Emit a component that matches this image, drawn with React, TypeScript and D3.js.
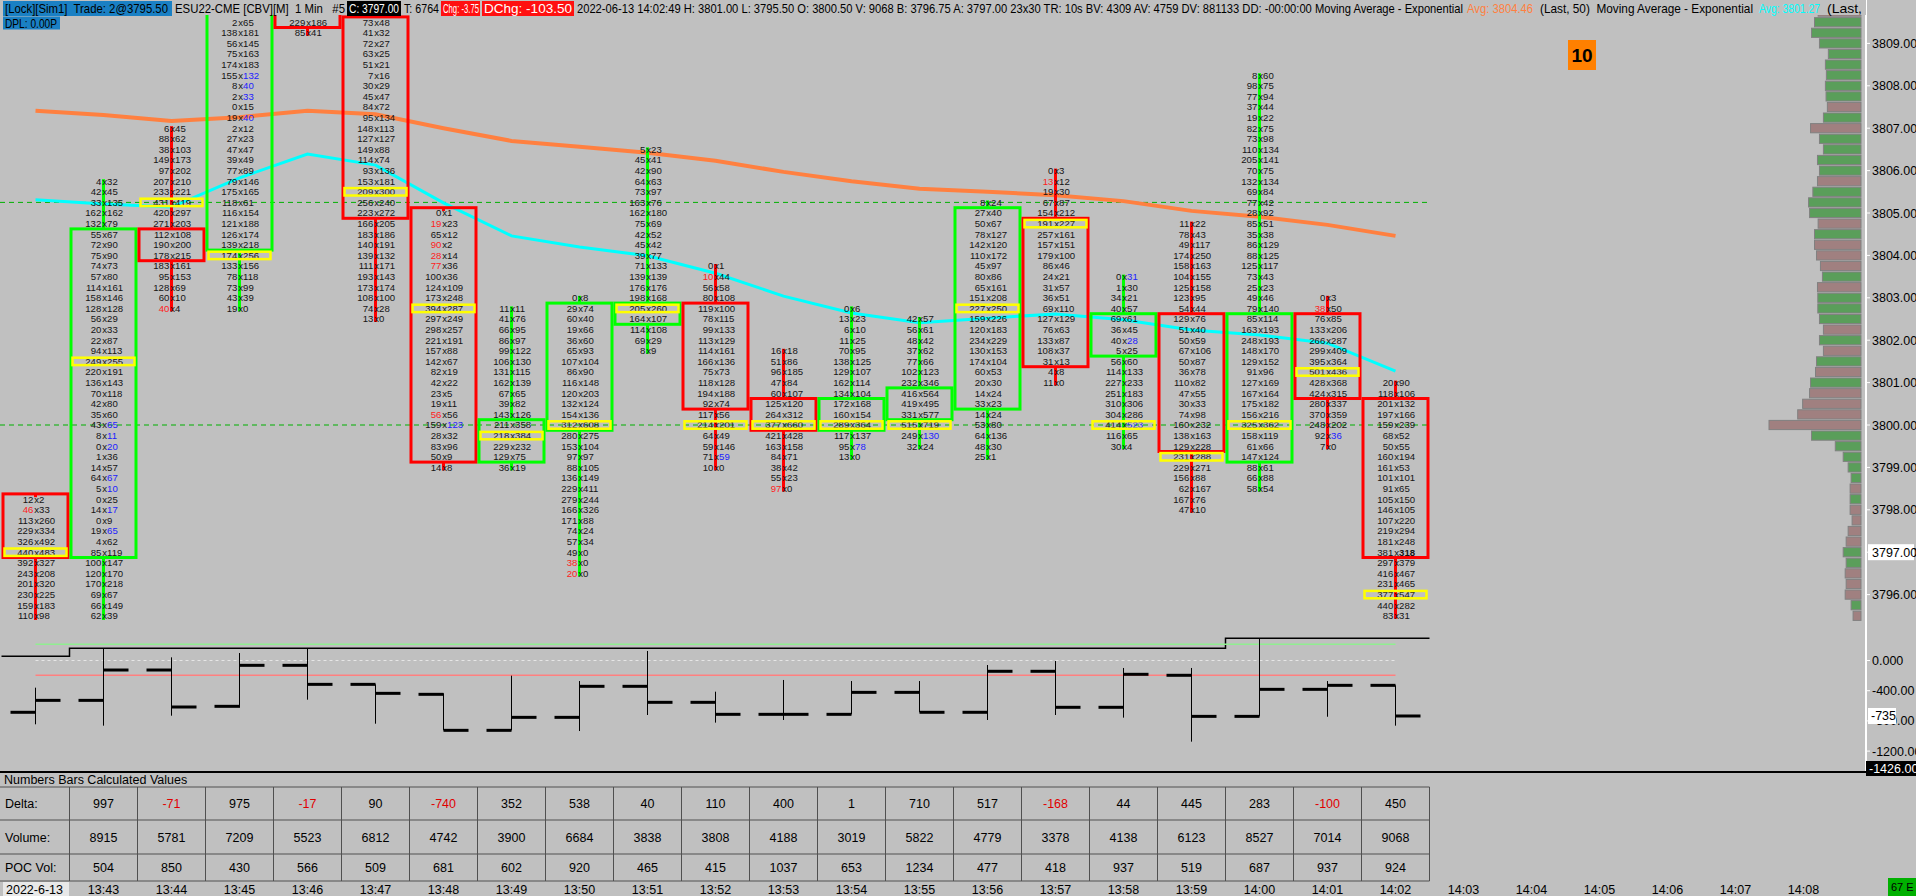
import React, { useEffect } from 'react';
import * as d3 from 'd3';

// ---- bars (1 min footprint) ----
const barTimes = ['13:42', '13:43', '13:44', '13:45', '13:46', '13:47', '13:48', '13:49', '13:50', '13:51', '13:52',
  '13:53', '13:54', '13:55', '13:56', '13:57', '13:58', '13:59', '14:00', '14:01', '14:02'];
const futureTimes = ['14:03', '14:04', '14:05', '14:06', '14:07', '14:08'];

const barOpen = [3798.25, 3797.0, 3804.5, 3804.25, 3810.75, 3809.5, 3805.0, 3799.25, 3800.0, 3802.5, 3802.75,
  3800.5, 3800.0, 3800.25, 3800.5, 3804.75, 3801.75, 3802.5, 3799.25, 3802.5, 3800.5];
const barClose = [3797.0, 3804.5, 3804.0, 3810.75, 3809.5, 3805.0, 3799.25, 3800.0, 3802.75, 3802.75, 3800.5,
  3800.0, 3800.5, 3800.75, 3805.0, 3801.5, 3802.5, 3799.5, 3802.5, 3800.75, 3797.0];
const barHigh = [3798.25, 3805.75, 3807.0, 3811.0, 3811.5, 3810.0, 3805.0, 3802.75, 3803.0, 3806.5, 3803.75,
  3801.75, 3802.75, 3802.5, 3805.25, 3806.0, 3803.5, 3804.75, 3808.25, 3803.0, 3801.0];
const barLow = [3795.25, 3795.25, 3802.75, 3802.75, 3809.25, 3802.5, 3799.0, 3799.0, 3796.5, 3801.75, 3799.0,
  3798.5, 3799.25, 3799.5, 3799.25, 3801.0, 3799.5, 3798.0, 3798.5, 3799.5, 3795.5];
// price of the first listed cell of each bar
const barTop = [3798.25, 3805.75, 3807.0, 3809.75, 3809.75, 3809.75, 3805.0, 3802.75, 3803.0, 3806.5, 3803.75,
  3801.75, 3802.75, 3802.5, 3805.25, 3806.0, 3803.5, 3804.75, 3808.25, 3803.0, 3801.0];

// "bid x ask" per price, top down. ! = red bid, * = blue ask, ^ = bold ask
const barCells = [
  ['12x2', '46!x33', '113x260', '229x334', '326x492', '440x483', '392x327', '243x208', '201x320', '230x225', '159x183', '110x98'],
  ['4x32', '42x45', '33x135', '162x162', '132x79', '55x67', '72x90', '75x90', '74x73', '57x80', '114x161', '158x146', '128x128',
    '56x29', '20x33', '22x87', '94x113', '249x255', '220x191', '136x143', '70x118', '42x80', '35x60', '43x*65', '8x*11', '0x*20',
    '1x36', '14x57', '64x*67', '5x*10', '0x25', '14x*17', '0x9', '19x*65', '4x62', '85x119', '100x147', '120x170', '170x218',
    '69x67', '66x149', '62x39'],
  ['6x45', '88x62', '38x103', '149x173', '97x202', '207x210', '233x221', '431x419', '420x297', '271x203', '112x108', '190x200',
    '178x215', '183x161', '95x153', '128x69', '60x10', '40!x4'],
  ['12x70', '2x65', '138x181', '56x145', '75x163', '174x183', '155x*132', '8x*40', '2x*33', '0x15', '19x*40', '2x12', '27x23',
    '47x47', '39x49', '77x89', '79x146', '175x165', '118x61', '116x154', '121x188', '126x174', '139x218', '174x256', '133x156',
    '78x118', '73x99', '43x39', '19x0'],
  ['216x174', '229x186', '85x41'],
  ['27!x133', '73x48', '41x32', '72x27', '63x25', '51x21', '7x16', '30x29', '45x47', '84x72', '95x134', '148x113', '127x127',
    '149x88', '114x74', '93x136', '153x181', '209x300', '256x240', '223x272', '166x205', '183x186', '140x191', '139x132',
    '111x171', '193x143', '173x174', '108x100', '74x28', '13x0'],
  ['0x1', '19!x23', '65x12', '90!x2', '28!x14', '77!x36', '100x36', '124x109', '173x248', '394x287', '297x249', '298x257',
    '221x191', '157x88', '142x67', '82x19', '42x22', '23x5', '19x11', '56!x56', '159x*123', '28x32', '83x96', '50x9', '14x8'],
  ['11x11', '41x76', '66x95', '86x97', '99x122', '106x130', '131x115', '162x139', '67x65', '39x82', '143x126', '211x358',
    '218x384', '229x232', '129x75', '36x19'],
  ['0x8', '29x74', '60x40', '19x66', '36x60', '65x93', '107x104', '86x90', '116x148', '120x203', '132x124', '154x136', '312x608',
    '280x275', '153x104', '97x97', '88x105', '136x149', '229x411', '279x244', '166x326', '171x88', '74x24', '57x34', '49x0',
    '38!x0', '20!x0'],
  ['5x23', '45x41', '42x90', '64x63', '73x97', '163x76', '162x180', '75x69', '42x52', '45x42', '39x77', '71x133', '139x139',
    '176x176', '198x168', '205x260', '164x107', '114x108', '69x29', '8x9'],
  ['0x1', '10!x44', '56x58', '80x108', '119x100', '78x115', '99x133', '113x129', '114x161', '166x136', '75x73', '118x128',
    '194x188', '92x74', '117x56', '214x201', '64x49', '59x146', '71x*59', '10x0'],
  ['16x18', '51x86', '96x185', '47x84', '60x107', '125x120', '264x312', '377x660', '421x428', '163x158', '84x71', '38x42',
    '55x23', '97!x0'],
  ['0x6', '13x23', '6x10', '11x25', '70x95', '138x125', '129x107', '162x114', '134x104', '172x168', '160x154', '289x364',
    '117x137', '95x*78', '13x0'],
  ['42x57', '56x61', '48x42', '37x62', '77x66', '102x123', '232x346', '416x564', '419x495', '331x577', '515x719', '249x*130', '32x24'],
  ['8x24', '27x40', '50x67', '78x127', '142x120', '110x172', '45x97', '80x86', '65x161', '151x208', '227x250', '159x226',
    '120x183', '234x229', '130x153', '174x104', '60x53', '20x30', '14x24', '33x23', '14x24', '53x80', '64x136', '48x30', '25x1'],
  ['0x3', '13!x12', '19x30', '67x87', '154x212', '191x227', '257x161', '157x151', '179x100', '86x46', '24x21', '31x57', '36x51',
    '69x110', '127x129', '76x63', '133x87', '108x37', '31x13', '4x8', '11x0'],
  ['0x*31', '1x30', '34x21', '40x57', '69x61', '36x45', '40x*28', '5x25', '56x60', '114x133', '227x233', '251x183', '310x306',
    '304x286', '414x*523', '116x65', '30x4'],
  ['11x22', '78x43', '49x117', '174x250', '158x163', '104x155', '125x158', '123x95', '54x44', '129x76', '51x40', '50x59',
    '67x106', '50x87', '36x78', '110x82', '47x55', '30x33', '74x98', '160x232', '138x163', '129x228', '231x288', '229x271',
    '156x88', '62x167', '167x76', '47x10'],
  ['8x60', '98x75', '77x94', '37x44', '19x22', '82x75', '73x98', '110x134', '205x141', '70x75', '132x134', '69x84', '77x42',
    '28x92', '85x51', '35x38', '86x129', '88x125', '125x117', '73x43', '25x23', '49x46', '79x140', '85x114', '163x193',
    '248x193', '148x170', '129x152', '91x96', '127x169', '167x164', '175x182', '156x216', '325x362', '158x119', '61x66',
    '147x124', '88x61', '66x88', '58x54'],
  ['0x3', '38!x50', '76x85', '133x206', '266x287', '299x409', '395x364', '501x436', '428x368', '424x315', '280x337', '370x359',
    '248x202', '92x*36', '7x0'],
  ['20x90', '118x106', '201x132', '197x166', '159x239', '68x52', '50x55', '160x194', '161x53', '101x101', '91x65', '105x150',
    '146x105', '107x220', '219x294', '181x248', '381x^318', '297x379', '416x467', '231x465', '377x547', '440x282', '83x31'],
];

const pocVolume = [923, 504, 850, 430, 566, 509, 681, 602, 920, 465, 415, 1037, 653, 1234, 477, 418, 937, 519, 687, 937, 924];

// ---- table (13:43 .. 14:02) ----
const tableDelta = [997, -71, 975, -17, 90, -740, 352, 538, 40, 110, 400, 1, 710, 517, -168, 44, 445, 283, -100, 450];
const tableVolume = [8915, 5781, 7209, 5523, 6812, 4742, 3900, 6684, 3838, 3808, 4188, 3019, 5822, 4779, 3378, 4138, 6123,
  8527, 7014, 9068];
const tablePoc = pocVolume.slice(1);

// ---- moving averages ----
const emaSlow = [3807.41, 3807.31, 3807.17, 3807.26, 3807.41, 3807.33, 3807.0, 3806.7, 3806.56, 3806.42, 3806.23, 3805.97,
  3805.75, 3805.57, 3805.5, 3805.42, 3805.28, 3805.05, 3804.91, 3804.72, 3804.46];
const emaFast = [3805.31, 3805.21, 3805.14, 3805.83, 3806.39, 3806.13, 3805.24, 3804.46, 3804.2, 3803.99, 3803.58, 3803.04,
  3802.64, 3802.41, 3802.52, 3802.62, 3802.48, 3802.24, 3802.12, 3801.93, 3801.27];

// ---- lower pane ----
const cdOpen = [-686, -528, -126, -607, -64, -316, -448, -925, -753, -342, -554, -713, -713, -422, -686, -143, -620, -196,
  -740, -382, -329];
const cdClose = [-528, -126, -616, -64, -316, -435, -925, -753, -342, -554, -713, -713, -422, -686, -143, -620, -183, -740,
  -382, -329, -735];
const cdHigh = [-360, 161, 42, 99, 161, -316, -435, -201, -272, 126, -413, -258, -272, -272, -60, -7, -99, -99, 294, -272, -329];
const cdLow = [-845, -863, -731, -625, -519, -837, -925, -925, -934, -722, -823, -788, -713, -686, -788, -722, -757, -1075,
  -740, -745, -863];
const cdTopLine = [55, 161, 161, 161, 161, 161, 161, 161, 161, 161, 161, 161, 161, 161, 161, 161, 161, 161, 294, 294, 294];
const cdGreenLevel = 214;
const cdRedLevel = -196;
const lowTicks = [0, -400, -800, -1200];
const lowTickLabels = ['0.000', '-400.00', '-800.00', '-1200.00'];

// ---- volume profile ----
const profileTop = 3809.75;
const profileVolume = [130, 141, 150, 126, 99, 108, 105, 108, 106, 102, 114, 153, 126, 114, 132, 126, 132, 146, 159, 156,
  130, 141, 141, 135, 123, 117, 132, 131, 131, 126, 114, 126, 114, 135, 138, 153, 156, 177, 192, 279, 150, 78, 54, 39, 30,
  33, 33, 33, 27, 39, 45, 54, 45, 48, 45, 48, 30, 24];
const profileSide = 'rggggggggrgrggggrgggrgrrrgrgggrgrgrgrrrrgggggrgrrrrggrrrgr'.split('');

const priceTicks = [3796, 3797, 3798, 3799, 3800, 3801, 3802, 3803, 3804, 3805, 3806, 3807, 3808, 3809];

const BG = '#c0c0c0';
const FONT = '"Liberation Sans", Arial, sans-serif';
const GREEN = '#00ff00';
const RED = '#ff0000';

function parseCell(s: string) {
  const [b, a] = s.split('x');
  return {
    bid: b.replace('!', ''),
    bidRed: b.includes('!'),
    ask: a.replace(/[*^]/g, ''),
    askBlue: a.includes('*'),
    askBold: a.includes('^'),
  };
}

export default function App() {
  useEffect(() => {
    document.body.style.margin = '0';
    document.body.style.overflow = 'hidden';
  }, []);

  const allTimes = [...barTimes, ...futureTimes];
  const x = d3.scaleBand<string>().domain(allTimes).range([1.5, 1.5 + 68 * allTimes.length]);
  const bw = x.bandwidth();
  const cx = (t: string) => (x(t) ?? 0) + bw / 2;

  const y = d3.scaleLinear().domain([3800, 3810]).range([425, 1]);
  const rowH = y(3800) - y(3800.25);
  const yl = d3.scaleLinear().domain([0, -1000]).range([660.5, 736]);
  const pw = d3.scaleLinear().domain([0, 279]).range([0, 92]);

  const lineSlow = d3.line<number>().x((_, i) => cx(barTimes[i])).y((d) => y(d));
  const topPts: [number, number][] = cdTopLine.map((v, i) => [x(barTimes[i]) ?? 0, yl(v)]);
  topPts.push([(x(barTimes[barTimes.length - 1]) ?? 0) + bw, yl(cdTopLine[cdTopLine.length - 1])]);
  const stepLine = d3.line().curve(d3.curveStepAfter);

  const firstC = cx(barTimes[0]);
  const lastC = cx(barTimes[barTimes.length - 1]);
  const tableTimes = barTimes.slice(1);
  const tableLeft = x(tableTimes[0]) ?? 0;
  const tableRight = (x(tableTimes[tableTimes.length - 1]) ?? 0) + bw;
  const rowLines = [787, 820, 854, 881];

  const header = [
    { x: 5, w: 163, t: '[Lock][Sim1]  Trade: 2@3795.50', c: '#000' },
    { x: 175, w: 170, t: 'ESU22-CME [CBV][M]  1 Min   #5', c: '#000' },
    { x: 349, w: 50, t: 'C: 3797.00', c: '#fff' },
    { x: 404, w: 35, t: 'T: 6764', c: '#000' },
    { x: 443, w: 36, t: 'Chg: -3.75', c: '#fff' },
    { x: 484, w: 88, t: 'DChg: -103.50', c: '#fff' },
    { x: 577, w: 886, t: '2022-06-13 14:02:49 H: 3801.00 L: 3795.50 O: 3800.50 V: 9068 B: 3796.75 A: 3797.00 23x30 TR: 10s BV: 4309 AV: 4759 DV: 881133 DD: -00:00:00 Moving Average - Exponential', c: '#000' },
    { x: 1467, w: 66, t: 'Avg: 3804.46', c: '#ff8040' },
    { x: 1540, w: 213, t: '(Last, 50)  Moving Average - Exponential', c: '#000' },
    { x: 1759, w: 61, t: 'Avg: 3801.27', c: '#00ffff' },
    { x: 1827, w: 35, t: '(Last,', c: '#000' },
  ];

  return (
    <svg width={1916} height={896} style={{ display: 'block', background: BG, fontFamily: FONT }}>
      <defs>
        <clipPath id="main-clip">
          <rect x={0} y={0} width={1440} height={620} />
        </clipPath>
      </defs>
      <rect x={0} y={0} width={1916} height={896} fill={BG} />

      {/* volume profile */}
      <g>
        {profileVolume.map((v, i) => {
          const p = profileTop - i * 0.25;
          const w = pw(v);
          return (
            <rect key={i} x={1861 - w} y={y(p) - 4.6} width={w} height={9.2}
              fill={profileSide[i] === 'g' ? '#5a9e5a' : '#a08080'} stroke="#808080" strokeWidth={1} />
          );
        })}
      </g>

      <g clipPath="url(#main-clip)">
        {/* price level lines */}
        {[3805.25, 3800].map((p) => (
          <line key={p} x1={0} x2={1430} y1={y(p)} y2={y(p)} stroke="#00b000" strokeWidth={1} strokeDasharray="5,4" />
        ))}

        {/* moving averages */}
        <path d={lineSlow(emaSlow) ?? ''} fill="none" stroke="#ff8040" strokeWidth={4} />
        <path d={lineSlow(emaFast) ?? ''} fill="none" stroke="#00ffff" strokeWidth={3} />

        {barTimes.map((t, i) => {
          const c = cx(t);
          const up = barClose[i] >= barOpen[i];
          const col = up ? GREEN : RED;
          const hi = Math.max(barOpen[i], barClose[i]);
          const lo = Math.min(barOpen[i], barClose[i]);
          const bTop = y(hi) - rowH / 2;
          const bBot = y(lo) + rowH / 2;
          const cells = barCells[i].map(parseCell);
          const pocIdx = cells.findIndex((d) => +d.bid + +d.ask === pocVolume[i]);
          return (
            <g key={t}>
              <line x1={c} x2={c} y1={y(barHigh[i]) - 2} y2={bTop} stroke={col} strokeWidth={3} />
              <line x1={c} x2={c} y1={bBot} y2={y(barLow[i]) + 3} stroke={col} strokeWidth={3} />
              {cells.map((d, j) => {
                const py = y(barTop[i] - j * 0.25);
                return (
                  <g key={j} fontSize={9.6}>
                    <text x={c - 2.2} y={py} dy="0.36em" textAnchor="end" fill={d.bidRed ? '#ff2020' : '#141414'}>{d.bid}</text>
                    <text x={c - 1.2} y={py} dy="0.36em" textAnchor="start" fill="#141414">
                      x<tspan fill={d.askBlue ? '#2020ff' : '#141414'} fontWeight={d.askBold ? 'bold' : 'normal'}>{d.ask}</tspan>
                    </text>
                  </g>
                );
              })}
              <rect x={c - 32.5} y={bTop} width={65} height={bBot - bTop} fill="none" stroke={col} strokeWidth={3} />
              {pocIdx >= 0 && (
                <rect x={c - 31} y={y(barTop[i] - pocIdx * 0.25) - 3.7} width={62} height={7.4}
                  fill="none" stroke="#ffff00" strokeWidth={2.5} />
              )}
            </g>
          );
        })}
      </g>

      {/* price axis */}
      <line x1={1866} x2={1866} y1={0} y2={772} stroke="#ffffff" strokeWidth={2} />
      {priceTicks.map((p) => (
        <g key={p}>
          <line x1={1866} x2={1870} y1={y(p)} y2={y(p)} stroke="#fff" strokeWidth={1} />
          <text x={1872} y={y(p)} dy="0.36em" fontSize={12.5} fill="#000">{p.toFixed(2)}</text>
        </g>
      ))}
      <rect x={1868} y={y(3797) - 8} width={46} height={16} fill="#ffffff" />
      <text x={1872} y={y(3797)} dy="0.36em" fontSize={12.5} fill="#000">3797.00</text>

      <rect x={1568} y={40} width={28} height={30} fill="#ff8000" />
      <text x={1582} y={55} dy="0.36em" textAnchor="middle" fontSize={19} fontWeight="bold" fill="#000">10</text>

      {/* header */}
      <rect x={0} y={0} width={1866} height={15} fill={BG} />
      <rect x={3} y={1} width={169} height={15} fill="#1a80c4" />
      <rect x={347} y={1} width={54} height={15} fill="#000" />
      <rect x={441} y={1} width={39} height={15} fill="#ff1010" />
      <rect x={482} y={1} width={92} height={15} fill="#ff1010" />
      {header.map((h) => (
        <text key={h.x} x={h.x} y={13} fontSize={13.5} fill={h.c} textLength={h.w} lengthAdjust="spacingAndGlyphs"
          style={{ whiteSpace: 'pre' }}>{h.t}</text>
      ))}
      <rect x={3} y={16.5} width={57} height={13} fill="#1a80c4" />
      <text x={5} y={27.5} fontSize={13} fill="#000" textLength={52} lengthAdjust="spacingAndGlyphs">DPL: 0.00P</text>

      {/* lower pane */}
      <g>
        <path d={stepLine(topPts) ?? ''} fill="none" stroke="#000" strokeWidth={1.5} />
        <line x1={firstC} x2={lastC} y1={yl(cdGreenLevel)} y2={yl(cdGreenLevel)} stroke="#90ee90" strokeWidth={1.5} />
        <line x1={firstC} x2={lastC} y1={yl(0)} y2={yl(0)} stroke="#e6e6e6" strokeWidth={1.2} strokeDasharray="3,3" />
        <line x1={firstC} x2={lastC} y1={yl(cdRedLevel)} y2={yl(cdRedLevel)} stroke="#ff8080" strokeWidth={1.5} />
        {barTimes.map((t, i) => {
          const c = cx(t);
          return (
            <g key={t}>
              <line x1={c} x2={c} y1={yl(cdHigh[i])} y2={yl(cdLow[i])} stroke="#000" strokeWidth={1} />
              <line x1={c - 25} x2={c} y1={yl(cdOpen[i])} y2={yl(cdOpen[i])} stroke="#000" strokeWidth={3} />
              <line x1={c} x2={c + 25} y1={yl(cdClose[i])} y2={yl(cdClose[i])} stroke="#000" strokeWidth={3} />
            </g>
          );
        })}
        {lowTicks.map((v, i) => (
          <g key={v}>
            <line x1={1866} x2={1870} y1={yl(v)} y2={yl(v)} stroke="#fff" strokeWidth={1} />
            <text x={1872} y={yl(v)} dy="0.36em" fontSize={12.5} fill="#000">{lowTickLabels[i]}</text>
          </g>
        ))}
        <rect x={1868} y={yl(-735) - 8} width={28} height={16} fill="#ffffff" />
        <text x={1871} y={yl(-735)} dy="0.36em" fontSize={12.5} fill="#000">-735</text>
        <line x1={0} x2={1866} y1={772} y2={772} stroke="#000" strokeWidth={2} />
        <rect x={1866} y={761} width={50} height={15} fill="#000" />
        <text x={1869} y={768.5} dy="0.36em" fontSize={12.5} fill="#fff">-1426.00</text>
      </g>

      {/* table */}
      <text x={4} y={784} fontSize={12.5} fill="#000">Numbers Bars Calculated Values</text>
      <g stroke="#505050" strokeWidth={1}>
        {rowLines.map((ry) => (
          <line key={ry} x1={0} x2={tableRight} y1={ry} y2={ry} />
        ))}
        {[tableLeft, ...tableTimes.map((t) => (x(t) ?? 0) + bw)].map((vx, i) => (
          <line key={i} x1={vx} x2={vx} y1={rowLines[0]} y2={rowLines[3]} />
        ))}
      </g>
      {['Delta:', 'Volume:', 'POC Vol:'].map((lab, r) => (
        <text key={lab} x={5} y={(rowLines[r] + rowLines[r + 1]) / 2} dy="0.36em" fontSize={12.5} fill="#000">{lab}</text>
      ))}
      {tableTimes.map((t, i) => {
        const c = cx(t);
        const rows = [tableDelta[i], tableVolume[i], tablePoc[i]];
        return rows.map((v, r) => (
          <text key={t + r} x={c} y={(rowLines[r] + rowLines[r + 1]) / 2} dy="0.36em" textAnchor="middle" fontSize={12.5}
            fill={r === 0 && v < 0 ? '#e00000' : '#000'}>{v}</text>
        ));
      })}

      {/* time axis */}
      <rect x={3} y={882} width={66} height={14} fill="#e8e8e8" />
      <text x={6} y={889} dy="0.36em" fontSize={12.5} fill="#000">2022-6-13</text>
      {[...tableTimes, ...futureTimes].map((t) => (
        <text key={t} x={cx(t)} y={889} dy="0.36em" textAnchor="middle" fontSize={12.5} fill="#000">{t}</text>
      ))}
      <rect x={1888} y={878} width={28} height={18} fill="#00b000" />
      <text x={1891} y={887} dy="0.36em" fontSize={11} fill="#000">67 E</text>
    </svg>
  );
}
